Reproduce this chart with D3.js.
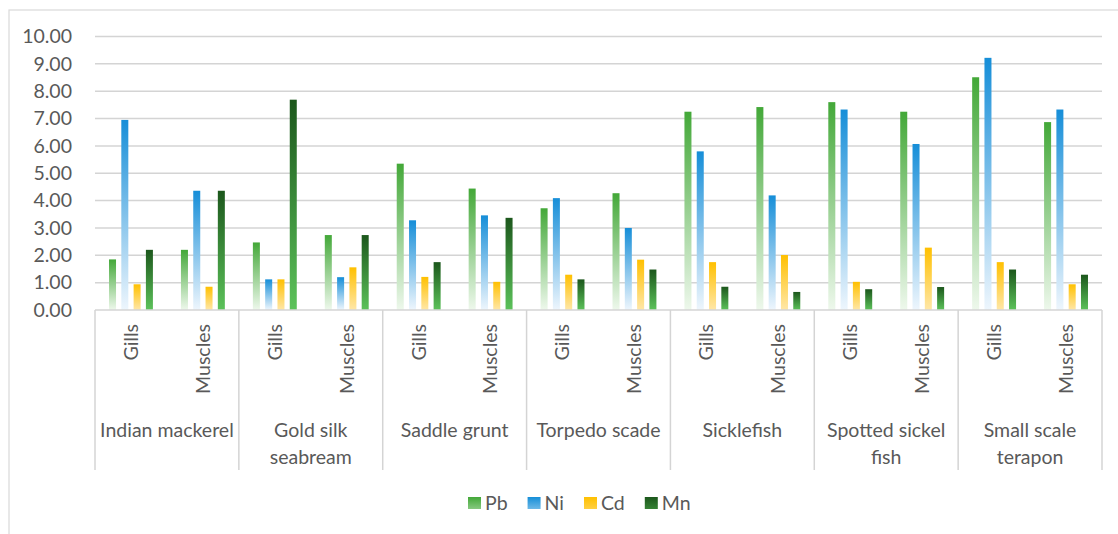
<!DOCTYPE html>
<html>
<head>
<meta charset="utf-8">
<script src="https://cdn.jsdelivr.net/npm/d3@7"></script>
<style>
  body { margin: 0; background: #fff; }
  text { font-family: Lato, "Open Sans", sans-serif; fill: #595959; }
</style>
</head>
<body>
<div id="chart"></div>
<script>
// Data
const fish = ["Indian mackerel", "Gold silk seabream", "Saddle grunt", "Torpedo scade",
              "Sicklefish", "Spotted sickel fish", "Small scale terapon"];
const fishLines = [["Indian mackerel"], ["Gold silk", "seabream"], ["Saddle grunt"], ["Torpedo scade"],
                   ["Sicklefish"], ["Spotted sickel", "fish"], ["Small scale", "terapon"]];
const parts = ["Gills", "Muscles"];
const metals = ["Pb", "Ni", "Cd", "Mn"];
// values in order: fish1 Gills, fish1 Muscles, fish2 Gills, ...
const pb = [1.85, 2.20, 2.47, 2.74, 5.35, 4.44, 3.72, 4.27, 7.25, 7.42, 7.60, 7.25, 8.51, 6.87];
const ni = [6.95, 4.36, 1.12, 1.20, 3.28, 3.46, 4.09, 3.00, 5.80, 4.19, 7.33, 6.07, 9.22, 7.33];
const cd = [0.94, 0.85, 1.12, 1.56, 1.21, 1.03, 1.29, 1.84, 1.75, 2.01, 1.03, 2.28, 1.75, 0.94];
const mn = [2.20, 4.36, 7.69, 2.74, 1.75, 3.37, 1.12, 1.48, 0.85, 0.66, 0.76, 0.84, 1.48, 1.29];
const yTicks = [0, 1, 2, 3, 4, 5, 6, 7, 8, 9, 10];

const seriesValues = { Pb: pb, Ni: ni, Cd: cd, Mn: mn };
const gradStops = {
  Pb: ["#43a838", "#eef8ec"],
  Ni: ["#168ed8", "#eef6fd"],
  Cd: ["#ffc000", "#ffe7a8"],
  Mn: ["#1c571c", "#5cc25a"]
};

// Rows: one per fish/part
const rows = [];
fish.forEach((f, i) => parts.forEach((p, j) => rows.push({ fish: f, part: p, idx: i * 2 + j })));

const W = 1118, H = 534;
const plot = { left: 95, right: 1102, top: 36.5, bottom: 310 };
const fs = "19.5px";

const svg = d3.select("#chart")
  .append("svg")
  .attr("width", W)
  .attr("height", H);

// Gradients (bars fade fully, legend keys only a little)
const defs = svg.append("defs");
metals.forEach(m => {
  const g = defs.append("linearGradient")
    .attr("id", "grad-" + m)
    .attr("x1", 0).attr("y1", 0).attr("x2", 0).attr("y2", 1);
  g.append("stop").attr("offset", "0%").attr("stop-color", gradStops[m][0]);
  g.append("stop").attr("offset", "100%").attr("stop-color", gradStops[m][1]);

  const lg = defs.append("linearGradient")
    .attr("id", "lgrad-" + m)
    .attr("x1", 0).attr("y1", 0).attr("x2", 0).attr("y2", 1);
  lg.append("stop").attr("offset", "0%").attr("stop-color", gradStops[m][0]);
  lg.append("stop").attr("offset", "100%")
    .attr("stop-color", d3.interpolateRgb(gradStops[m][0], gradStops[m][1])(0.4));
});

// Chart border
svg.append("rect")
  .attr("x", 9).attr("y", 10)
  .attr("width", 1200).attr("height", 600)
  .attr("fill", "none")
  .attr("stroke", "#d9d9d9")
  .attr("stroke-width", 1.2);

// Scales
const xFish = d3.scaleBand().domain(fish).range([plot.left, plot.right]);
const x0 = d3.scaleBand().domain(rows.map(d => d.idx)).range([plot.left, plot.right]);
const x1 = d3.scaleBand().domain(metals).range([0, x0.bandwidth()])
  .paddingInner(0.43).paddingOuter(1.14);
const y = d3.scaleLinear().domain([0, 10]).range([plot.bottom, plot.top]);

// Gridlines
svg.append("g")
  .selectAll("line")
  .data(yTicks.filter(t => t > 0))
  .enter()
  .append("line")
  .attr("x1", plot.left).attr("x2", plot.right)
  .attr("y1", d => y(d)).attr("y2", d => y(d))
  .attr("stroke", "#d4d4d4")
  .attr("stroke-width", 1.5);

// Y tick labels
svg.append("g")
  .selectAll("text")
  .data(yTicks)
  .enter()
  .append("text")
  .attr("x", 72)
  .attr("y", d => y(d))
  .attr("dy", "0.35em")
  .attr("text-anchor", "end")
  .style("font-size", fs)
  .text(d => d3.format(".2f")(d));

// Bars
const groups = svg.append("g")
  .selectAll("g")
  .data(rows)
  .enter()
  .append("g")
  .attr("transform", d => `translate(${x0(d.idx)},0)`);

groups.selectAll("rect")
  .data(d => metals.map(m => ({ metal: m, value: seriesValues[m][d.idx] })))
  .enter()
  .append("rect")
  .attr("x", d => x1(d.metal))
  .attr("y", d => y(d.value))
  .attr("width", x1.bandwidth())
  .attr("height", d => plot.bottom - y(d.value))
  .attr("fill", d => `url(#grad-${d.metal})`);

// Category axis box
const axisG = svg.append("g");
axisG.append("line")
  .attr("x1", plot.left).attr("x2", plot.right)
  .attr("y1", plot.bottom).attr("y2", plot.bottom)
  .attr("stroke", "#d4d4d4").attr("stroke-width", 1.5);

const seps = fish.map(f => xFish(f)).concat([plot.right]);
axisG.selectAll(".sep")
  .data(seps)
  .enter()
  .append("line")
  .attr("class", "sep")
  .attr("x1", d => d).attr("x2", d => d)
  .attr("y1", plot.bottom).attr("y2", 470)
  .attr("stroke", "#d4d4d4").attr("stroke-width", 1.5);

// Part labels (rotated)
axisG.selectAll(".part")
  .data(rows)
  .enter()
  .append("text")
  .attr("class", "part")
  .attr("transform", d => `translate(${x0(d.idx) + x0.bandwidth() / 2},324) rotate(-90)`)
  .attr("dy", "0.35em")
  .attr("text-anchor", "end")
  .style("font-size", fs)
  .text(d => d.part);

// Fish labels
const fishLabel = axisG.selectAll(".fish")
  .data(fish)
  .enter()
  .append("text")
  .attr("class", "fish")
  .attr("text-anchor", "middle")
  .style("font-size", fs);

fishLabel.selectAll("tspan")
  .data((d, i) => fishLines[i].map(l => ({ line: l, f: d })))
  .enter()
  .append("tspan")
  .attr("x", d => xFish(d.f) + xFish.bandwidth() / 2)
  .attr("y", (d, i) => 437 + i * 27)
  .text(d => d.line);

// Legend
const legend = svg.append("g");
let lx = 468;
metals.forEach(m => {
  legend.append("rect")
    .attr("x", lx).attr("y", 497)
    .attr("width", 13).attr("height", 12)
    .attr("fill", `url(#lgrad-${m})`);
  const t = legend.append("text")
    .attr("x", lx + 17)
    .attr("y", 503)
    .attr("dy", "0.35em")
    .style("font-size", fs)
    .text(m);
  lx += 17 + t.node().getComputedTextLength() + 20;
});
</script>
</body>
</html>
